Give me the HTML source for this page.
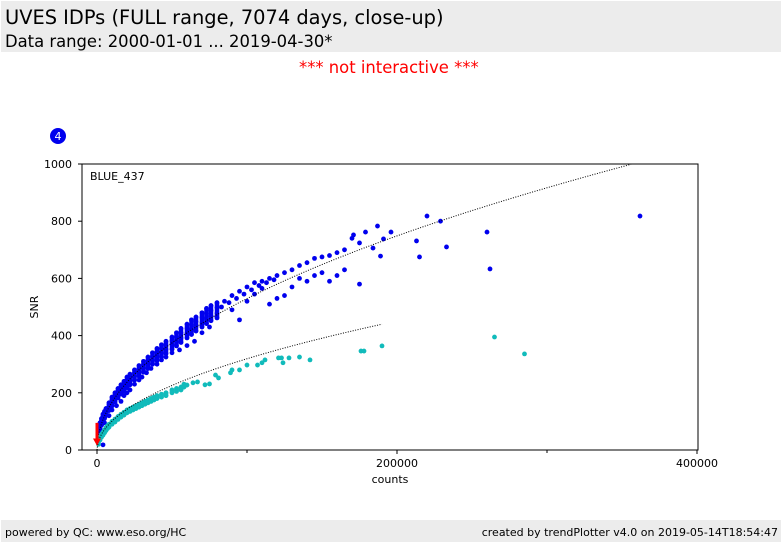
<!DOCTYPE html>
<html><head><meta charset="utf-8"><style>
body{margin:0;width:782px;height:542px;background:#fff;font-family:"DejaVu Sans","Liberation Sans",sans-serif;position:relative;overflow:hidden}
.hdr{position:absolute;left:1px;top:1px;width:780px;height:51px;background:#ececec}
.t1{position:absolute;left:4px;top:5px;font-size:19.4px;color:#000}
.t2{position:absolute;left:4px;top:31px;font-size:16.4px;color:#000}
.ni{position:absolute;left:299px;top:58px;font-size:16.4px;color:#f00}
.ftr{position:absolute;left:1px;top:520px;width:780px;height:22px;background:#ececec;font-size:11px}
.fl{position:absolute;left:4px;top:6px}.fr{position:absolute;right:3px;top:6px}
</style></head><body>
<div class="hdr">
<div class="t1">UVES IDPs (FULL range, 7074 days, close-up)</div>
<div class="t2">Data range: 2000-01-01 ... 2019-04-30*</div></div>
<div class="ni">*** not interactive ***</div>
<svg id="chart" width="782" height="542" style="position:absolute;left:0;top:0"></svg>
<div class="ftr"><span class="fl">powered by QC: www.eso.org/HC</span><span class="fr">created by trendPlotter v4.0 on 2019-05-14T18:54:47</span></div>
<script>
const blueCounts=[1000,2000,3000,4000,5000,6000,8000,10000,12000,14000,16000,18000,20000,22000,25000,28000,31000,34000,37000,40000,43000,46000,50000,53000,56000,60000,63000,66000,70000,73000,76000,80000];
const blueUpper=[70,95,110,125,135,145,165,185,200,215,228,240,255,265,280,295,310,325,340,355,368,380,395,410,425,440,455,465,480,495,505,515];
const blueUpper2=[62,88,102,118,128,138,158,176,191,206,219,231,244,254,270,284,299,313,328,342,355,367,382,396,410,425,438,449,463,477,488,498];
const blueMid=[55,80,95,110,120,130,150,165,180,195,208,220,232,242,258,272,287,300,315,328,340,352,368,380,392,408,420,432,445,458,468,478];
const blueMid2=[48,72,87,100,110,120,138,154,168,182,195,206,218,228,244,258,272,285,300,312,325,337,352,364,376,392,404,416,430,442,452,462];
const blueLowCounts=[5000,8000,10000,13000,16000,18000,20000,22000,25000,28000,30000,33000,36000,40000,43000,46000,50000,55000,60000,65000,70000,75000];
const blueLow=[95,120,140,155,170,190,200,210,230,245,255,270,285,300,315,325,340,350,365,380,410,430];
const blueScatterCounts=[85000,90000,95000,100000,105000,110000,115000,120000,125000,130000,135000,140000,145000,150000,155000,160000,165000,170000,90000,95000,100000,105000,110000,115000,120000,125000,130000,135000,140000,145000,150000,155000,160000,165000,362000,260000,262000,220000,229000,233000,213000,215000,196000,191000,187000,184000,189000,175000,175000,171000,179000,4000,83000,88000,93000,98000,103000,108000,113000,118000];
const blueScatter=[520,540,555,570,585,590,600,610,620,630,645,655,670,675,680,690,700,740,490,455,520,545,565,510,530,540,570,600,590,610,620,590,610,630,818,762,633,818,800,710,731,675,762,738,783,706,678,724,580,752,762,18,500,515,530,545,560,575,585,595];
const cyanCounts=[1000,2000,3000,4000,5000,6000,7000,8000,10000,12000,14000,16000,18000,20000,22000,24000,26000,28000,30000,32000,34000,36000,38000,40000,43000,46000,50000,53000,56000,58000];
const cyanSnr=[30,45,55,62,70,78,85,90,100,108,117,125,132,140,145,150,155,160,165,170,175,180,185,190,195,200,210,215,220,230];
const cyanLow=[20,35,45,52,60,68,75,80,90,98,107,115,122,130,135,140,145,150,155,160,165,170,175,180,185,190,200,205,210,220];
const cyanOutCounts=[265000,285000,190000,176000,178000,142000,135000,128000,123000,124000,121000,112000,110000,107000,100000,95000,90000,89000,79000,81000,72000,75000,64000,67000,60000];
const cyanOut=[395,336,364,346,346,315,325,322,322,305,322,315,305,297,297,280,280,270,262,252,228,231,235,238,227];
const xTicks=[0,200000,400000];
const yTicks=[0,200,400,600,800,1000];
const fitBlue=1.674, fitCyan=1.009, fitCyanMax=190000;
const L=82,R=698,T=164,B=450;
const X=v=>97+v*300/200000, Y=v=>B-(v/1000)*(B-T);
const svg=document.getElementById('chart');const NS='http://www.w3.org/2000/svg';
function mk(t,a){const e=document.createElementNS(NS,t);for(const k in a)e.setAttribute(k,a[k]);svg.appendChild(e);return e;}
let e=mk('rect',{x:L,y:T,width:R-L,height:B-T,fill:'#fff',stroke:'#000','stroke-width':1});


xTicks.forEach(v=>{mk('line',{x1:X(v),x2:X(v),y1:B,y2:B+4,stroke:'#000'});
 e=mk('text',{x:X(v),y:B+17,'font-size':11,'text-anchor':'middle'});e.textContent=v;
 
 });
[100000,300000].forEach(v=>mk('line',{x1:X(v),x2:X(v),y1:B,y2:B+3,stroke:'#000'}));
yTicks.forEach(v=>{mk('line',{x1:L-4,x2:L,y1:Y(v),y2:Y(v),stroke:'#000'});
 e=mk('text',{x:L-10,y:Y(v)+4,'font-size':11,'text-anchor':'end'});e.textContent=v;
 
 });
e=mk('text',{x:390,y:483,'font-size':11,'text-anchor':'middle'});e.textContent='counts';


e=mk('text',{x:38,y:307,'font-size':11,'text-anchor':'middle',transform:'rotate(-90 38 307)'});e.textContent='SNR';


e=mk('text',{x:90,y:180,'font-size':11});e.textContent='BLUE_437';


mk('circle',{cx:58,cy:136,r:8,fill:'#0000ee'});
e=mk('text',{x:58,y:140,'font-size':11,fill:'#fff','text-anchor':'middle'});e.textContent='4';


function pts(cs,vs,col,name){for(let i=0;i<cs.length;i++){const c=mk('circle',{cx:X(cs[i]),cy:Y(vs[i]),r:2.4,fill:col});
 
 }}
function band(cs,a,b,col,name){for(let i=0;i<cs.length;i++){const l=mk('line',{x1:X(cs[i]),x2:X(cs[i]),y1:Y(a[i]),y2:Y(b[i]),stroke:col,'stroke-width':4.5,'stroke-linecap':'round'});
 
 }}
band(blueCounts,blueUpper,blueMid2,'#0000ee','blue-band');
pts(blueCounts,blueUpper,'#0000ee','blue-point');
pts(blueCounts,blueUpper2,'#0000ee','blue-point');
pts(blueCounts,blueMid,'#0000ee','blue-point');
pts(blueCounts,blueMid2,'#0000ee','blue-point');
pts(blueLowCounts,blueLow,'#0000ee','blue-point');
pts(blueScatterCounts,blueScatter,'#0000ee','blue-point');
band(cyanCounts,cyanSnr,cyanLow,'#11bbbb','cyan-band');
pts(cyanCounts,cyanSnr,'#11bbbb','cyan-point');
pts(cyanCounts,cyanLow,'#11bbbb','cyan-point');
pts(cyanOutCounts,cyanOut,'#11bbbb','cyan-point');
function fit(a,max,name){let d='';for(let c=0;c<=max;c+=1000){const s=a*Math.sqrt(c);if(s>1000)break;d+=(d?'L':'M')+X(c)+' '+Y(s);}
 const p=mk('path',{d:d,fill:'none',stroke:'#000','stroke-width':1,'stroke-dasharray':'1 1.5'});
 
 }
fit(fitBlue,400000,'blue-fit-line');fit(fitCyan,fitCyanMax,'cyan-fit-line');
e=mk('path',{d:`M${X(0)-1.5} ${Y(95)}L${X(0)+1.5} ${Y(95)}L${X(0)+1.5} ${Y(40)}L${X(0)+4} ${Y(40)}L${X(0)} ${Y(15)}L${X(0)-4} ${Y(40)}L${X(0)-1.5} ${Y(40)}Z`,fill:'#f00'});


</script></body></html>
